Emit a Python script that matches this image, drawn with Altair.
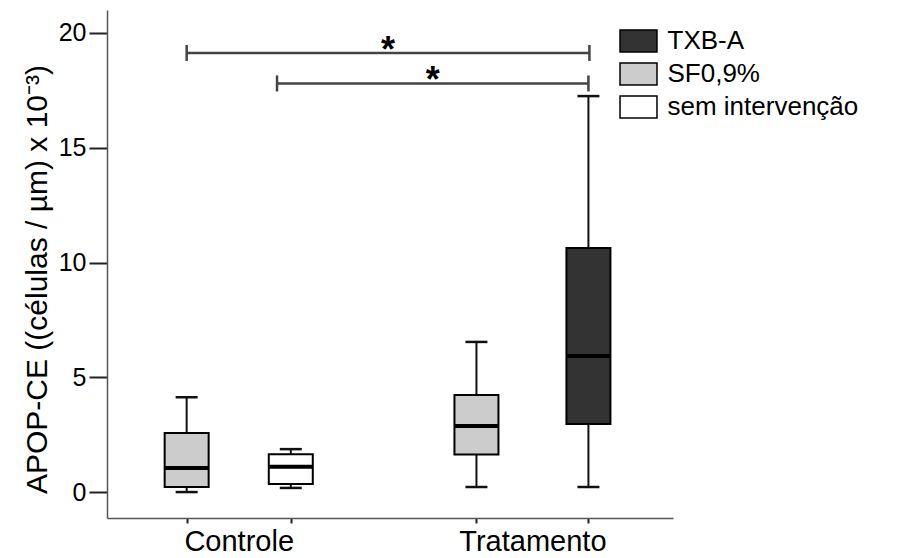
import altair as alt
import pandas as pd

# ---------------- data ----------------
groups = ["Controle", "Controle", "Tratamento", "Tratamento"]
series = ["SF0,9%", "sem intervenção", "SF0,9%", "TXB-A"]
whisker_low = [0.0, 0.18, 0.22, 0.22]
box_low = [0.22, 0.35, 1.64, 2.96]
box_median = [1.05, 1.10, 2.88, 5.93]
box_high = [2.57, 1.65, 4.23, 10.63]
whisker_high = [4.13, 1.87, 6.54, 17.25]

legend_order = ["TXB-A", "SF0,9%", "sem intervenção"]
fill_colors = ["#333333", "#cccccc", "#ffffff"]

sig_labels = ["*", "*"]
sig_levels = [19.13, 17.8]

group_names = ["Controle", "Tratamento"]
y_ticks = [0, 5, 10, 15, 20]
y_title = "APOP-CE ((células / µm) x 10⁻³)"

# ---------------- layout ----------------
box_x = [0.76, 1.82, 3.71, 4.85]
sig_x_start = [0.76, 1.68]
sig_x_end = [4.86, 4.85]
x_domain = [0, 5.66]
y_domain = [-1.13, 21.0]
FONT = "Liberation Sans"

group_mid = [round((box_x[0] + box_x[1]) / 2, 4), round((box_x[2] + box_x[3]) / 2, 4)]

boxes = pd.DataFrame({
    "grupo": groups, "serie": series, "pos": box_x,
    "wlo": whisker_low, "q1": box_low, "med": box_median,
    "q3": box_high, "whi": whisker_high,
})
sig = pd.DataFrame({
    "x1": sig_x_start, "x2": sig_x_end, "level": sig_levels, "label": sig_labels,
})
sig["mid"] = (sig["x1"] + sig["x2"]) / 2

tick_vals = sorted(box_x + group_mid)
label_expr = " : ".join(
    f"datum.value == {m} ? '{g}'" for m, g in zip(group_mid, group_names)
) + " : ''"
mid_test = " || ".join(f"datum.value == {m}" for m in group_mid)

xs = alt.Scale(domain=x_domain, nice=False, zero=False)
ys = alt.Scale(domain=y_domain, nice=False, zero=False)

x_axis = alt.Axis(
    values=tick_vals, labelExpr=label_expr, title=None, grid=False,
    tickSize=5, tickWidth=2, tickColor="#222",
    tickOpacity={"condition": {"test": mid_test, "value": 0}, "value": 1},
    labelFontSize=29, labelFont=FONT, labelColor="black", labelPadding=4,
    labelOverlap=False, labelFlush=False, labelBound=False,
    domainColor="#555", domainWidth=1.5,
)
y_axis = alt.Axis(
    values=y_ticks, title=y_title, grid=False,
    tickSize=18, tickWidth=2, tickColor="#222",
    labelFontSize=25, labelFont=FONT, labelColor="black", labelPadding=3,
    domainColor="#555", domainWidth=1.5,
    titleFontSize=30, titleFont=FONT, titleFontWeight="normal", titleColor="black",
    titleX=-61, titleY=269, titleBaseline="alphabetic", titleAlign="center", titleAngle=270,
)


def X(field):
    return alt.X(field, type="quantitative", scale=xs, axis=x_axis)


def Y(field):
    return alt.Y(field, type="quantitative", scale=ys, axis=y_axis)


base = alt.Chart(boxes)

whiskers = base.mark_rule(color="#111", strokeWidth=2).encode(
    x=X("pos"), y=Y("wlo"), y2="whi"
)
cap_lo = base.mark_tick(orient="horizontal", size=22, thickness=2.5, color="#111", opacity=1).encode(
    x=X("pos"), y=Y("wlo")
)
cap_hi = base.mark_tick(orient="horizontal", size=22, thickness=2.5, color="#111", opacity=1).encode(
    x=X("pos"), y=Y("whi")
)
box = base.mark_bar(size=44, stroke="black", strokeWidth=2, opacity=1).encode(
    x=X("pos"), y=Y("q1"), y2="q3",
    fill=alt.Fill(
        "serie:N",
        scale=alt.Scale(domain=legend_order, range=fill_colors),
        sort=legend_order,
        legend=alt.Legend(
            title=None, orient="none", legendX=518.5, legendY=18,
            symbolType="M-1.68,-1H1.68V1H-1.68Z", symbolSize=484,
            symbolStrokeColor="black", symbolStrokeWidth=1.5, symbolOpacity=1,
            labelFontSize=26, labelFont=FONT, labelColor="black", labelLimit=400,
            labelOffset=16, rowPadding=5, padding=0,
        ),
    ),
)
medians = base.mark_tick(orient="horizontal", size=44, thickness=4, color="black", opacity=1).encode(
    x=X("pos"), y=Y("med")
)

sbase = alt.Chart(sig)
brackets = sbase.mark_rule(color="#444", strokeWidth=2.5).encode(
    x=X("x1"), x2="x2", y=Y("level")
)
bcap1 = sbase.mark_tick(orient="vertical", size=16, thickness=2.5, color="#444", opacity=1).encode(
    x=X("x1"), y=Y("level")
)
bcap2 = sbase.mark_tick(orient="vertical", size=16, thickness=2.5, color="#444", opacity=1).encode(
    x=X("x2"), y=Y("level")
)
stars = sbase.mark_text(fontSize=36, fontWeight="bold", font=FONT, baseline="alphabetic", dy=9, color="black").encode(
    x=X("mid"), y=Y("level"), text="label:N"
)

chart = alt.layer(
    whiskers, cap_lo, cap_hi, box, medians, brackets, bcap1, bcap2, stars
).properties(
    width=566, height=508,
    autosize=alt.AutoSizeParams(type="none"),
    padding={"left": 99, "top": 2, "right": 205, "bottom": 40},
    background="white",
).configure_view(stroke="transparent")

chart.save("out.html", embed_options={"renderer": "svg", "actions": False})
